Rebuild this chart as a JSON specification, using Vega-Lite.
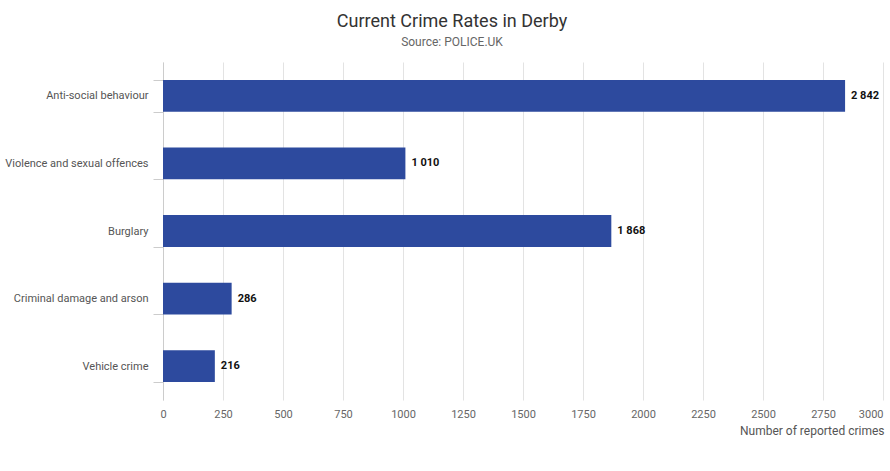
{
  "$schema": "https://vega.github.io/schema/vega-lite/v6.json",
  "autosize": {"type": "none"},
  "width": 720,
  "height": 338,
  "padding": {"left": 163, "top": 62, "right": 7, "bottom": 71},
  "background": "white",
  "config": {
    "font": "Roboto",
    "view": {"stroke": null},
    "locale": {"number": {"decimal": ".", "thousands": " ", "grouping": [3], "currency": ["", ""]}}
  },
  "title": {
    "text": "Current Crime Rates in Derby",
    "subtitle": "Source: POLICE.UK",
    "anchor": "middle",
    "frame": "group",
    "dx": -71,
    "offset": 8,
    "fontSize": 18,
    "fontWeight": "normal",
    "color": "#333333",
    "subtitleFontSize": 12,
    "subtitleColor": "#666666",
    "subtitlePadding": 6
  },
  "data": {
    "values": [
      {"category": "Anti-social behaviour", "count": 2842},
      {"category": "Violence and sexual offences", "count": 1010},
      {"category": "Burglary", "count": 1868},
      {"category": "Criminal damage and arson", "count": 286},
      {"category": "Vehicle crime", "count": 216}
    ]
  },
  "encoding": {
    "y": {
      "field": "category",
      "type": "nominal",
      "sort": null,
      "scale": {"paddingInner": 0.53, "paddingOuter": 0.265},
      "axis": {
        "title": null,
        "tickBand": "extent",
        "domainColor": "#cccccc",
        "tickColor": "#cccccc",
        "tickSize": 10,
        "labelPadding": 5,
        "labelFontSize": 11,
        "labelColor": "#555555",
        "labelLimit": 300
      }
    },
    "x": {
      "field": "count",
      "type": "quantitative",
      "scale": {"domain": [0, 3000], "nice": false},
      "axis": {
        "title": "Number of reported crimes",
        "titleAnchor": "end",
        "titleAlign": "right",
        "titleX": 721,
        "titleFontSize": 12,
        "titleFontWeight": "normal",
        "titleColor": "#555555",
        "titlePadding": 6,
        "values": [0, 250, 500, 750, 1000, 1250, 1500, 1750, 2000, 2250, 2500, 2750, 3000],
        "format": "d",
        "domain": false,
        "ticks": false,
        "labelPadding": 8,
        "labelFontSize": 11,
        "labelColor": "#666666",
        "labelAlign": {"expr": "datum.value == 3000 ? 'right' : 'center'"},
        "labelBound": false,
        "gridColor": "#e3e3e3",
        "grid": true
      }
    }
  },
  "layer": [
    {"mark": {"type": "bar", "color": "#2d4a9e"}},
    {
      "mark": {"type": "text", "align": "left", "dx": 6, "fontWeight": "bold", "fontSize": 11, "color": "#111111"},
      "encoding": {"text": {"field": "count", "type": "quantitative", "format": ",d"}}
    }
  ]
}
